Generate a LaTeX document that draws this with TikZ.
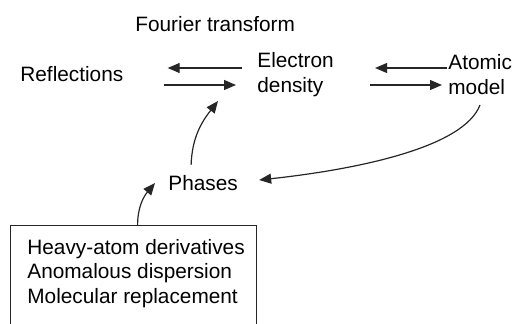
\documentclass[tikz,border=0pt]{standalone}
\usepackage{fontspec}
\setmainfont{Liberation Sans}
\usepackage{tikz}
\usetikzlibrary{arrows.meta,positioning}

\begin{document}
\begin{tikzpicture}[
  font=\fontsize{10.4pt}{12.4pt}\selectfont,
  lbl/.style={inner sep=0pt, anchor=west, align=left},
  frame/.style={draw=black!85, line width=0.6pt, minimum width=123pt, minimum height=60pt, inner sep=0pt, anchor=north west},
  ar/.style={-{Triangle[length=6pt,width=5pt]}, line width=0.6pt, black!85}]
  \useasboundingbox (0pt,0pt) rectangle (265.5pt,161.5pt);
  % top row
  \node[lbl] (refl) at (10pt,124.5pt) {Reflections};
  \node[lbl] (ft) at (67.5pt,149.5pt) {Fourier transform};
  \node[lbl] (elec) at (128.5pt,124.25pt) {Electron\\density};
  \node[lbl] (atom) at (224pt,124.25pt) {Atomic\\model};
  % lower part
  \node[lbl] (phases) at (84pt,70pt) {Phases};
  \node[frame] (box) at (5pt,49pt) {};
  \node[lbl] (meth) at (13.5pt,24.75pt) {Heavy-atom derivatives\\Anomalous dispersion\\Molecular replacement};
  % arrows
  \draw[ar] ([xshift=-7.5pt,yshift=3.25pt]elec.west) -- ([xshift=22pt,yshift=3pt]refl.east);
  \draw[ar] ([xshift=20pt,yshift=-5.5pt]refl.east) -- ([xshift=-10.5pt,yshift=-5.25pt]elec.west);
  \draw[ar] ([xshift=-0.5pt,yshift=3.25pt]atom.west) -- ([xshift=20.5pt,yshift=3.25pt]elec.east);
  \draw[ar] ([xshift=18pt,yshift=-5.25pt]elec.east) -- ([xshift=-3pt,yshift=-5.25pt]atom.west);
  \draw[ar] (240pt,109pt) .. controls (232pt,88pt) and (180pt,77pt) .. ([xshift=10.5pt,yshift=1.5pt]phases.east);
  \draw[ar] ([xshift=-6pt,yshift=5pt]phases.north) to[out=88,in=-128] (109pt,111pt);
  \draw[ar] ([xshift=2pt]box.north) to[out=90,in=-130] ([xshift=-6.5pt]phases.west);
\end{tikzpicture}
\end{document}
